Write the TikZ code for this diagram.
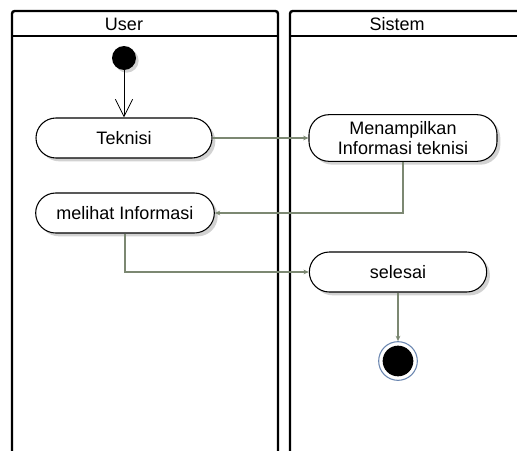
\documentclass[tikz,border=0pt]{standalone}
\usepackage{fontspec}
\setmainfont{Liberation Sans}
\usetikzlibrary{arrows.meta,shadows}
\definecolor{flowgray}{HTML}{7C8872}
\definecolor{endring}{HTML}{6A86B0}

\begin{document}
\begin{tikzpicture}[x=0.75pt,y=-0.75pt]
\tikzstyle{action}=[rectangle,rounded corners=15pt,draw=black,thick,fill=white,
  drop shadow={opacity=0.35,shadow xshift=2.5pt,shadow yshift=-2.5pt},
  align=center,font=\fontsize{13.5}{15}\selectfont,inner sep=0pt]
\tikzstyle{flow}=[draw=flowgray,thick,-{Stealth[length=4pt,width=3.5pt]}]
\tikzstyle{lane}=[draw=black,line width=1.8pt]
\clip (0,0) rectangle (517,450);
\fill[white] (0,0) rectangle (517,450);
% lanes
\draw[lane,rounded corners=2pt] (12,460) -- (12,11) -- (278,11) -- (278,460);
\draw[lane] (12,36) -- (278,36);
\draw[lane,rounded corners=2pt] (290,460) -- (290,11) -- (530,11);
\draw[lane] (290,36) -- (530,36);
\node (userlbl) at (124,24) {\fontsize{13.5}{15}\selectfont User};
\node (sistemlbl) at (397,24) {\fontsize{13.5}{15}\selectfont Sistem};
% nodes
\node [circle,fill=black,minimum size=18pt,inner sep=0pt,
  drop shadow={opacity=0.35,shadow xshift=2pt,shadow yshift=-2pt}] (start) at (124,58) {};
\node [action,minimum width=132pt,minimum height=30pt] (teknisi) at (124,138) {Teknisi};
\node [action,minimum width=141pt,minimum height=35pt] (tampil) at (403,138) {Menampilkan\\Informasi teknisi};
\node [action,minimum width=134pt,minimum height=30pt] (melihat) at (125,213) {melihat Informasi};
\node [action,minimum width=133pt,minimum height=30pt] (selesai) at (398,272) {selesai};
\node [circle,draw=endring,thick,minimum size=29pt,inner sep=0pt,fill=white] (akhir) at (398,361) {};
\node [circle,fill=black,minimum size=23pt,inner sep=0pt] (akhirdot) at (akhir.center) {};
% connectors
\draw [black,semithick,-{Straight Barb[length=13pt,width=13pt]}] (start) -- (teknisi);
\draw [flow] (teknisi) -- (tampil);
\draw [flow] (tampil.south) |- (melihat.east);
\draw [flow] (melihat.south) |- (selesai.west);
\draw [flow] (selesai) -- (akhir);
\end{tikzpicture}
\end{document}
